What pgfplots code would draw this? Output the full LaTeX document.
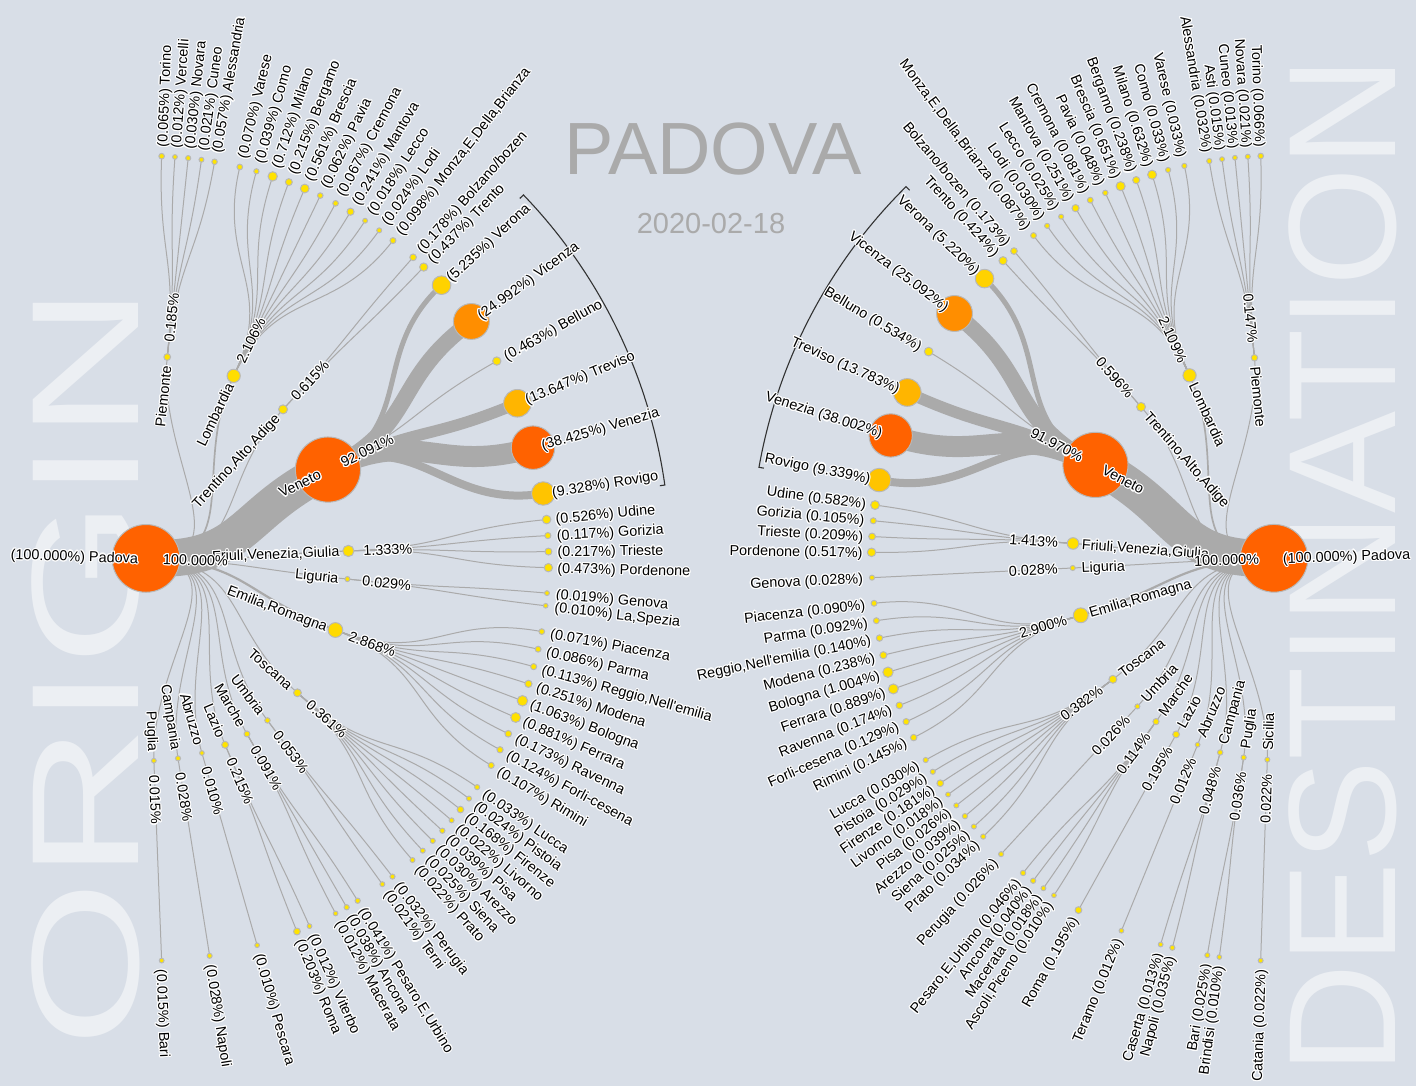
\documentclass[border=0pt]{standalone}
\usepackage{fontspec}
\setmainfont{Liberation Sans}
\usepackage{pgfplots}
\usepackage{pgfplotstable}
\pgfplotsset{compat=1.18}
\usepackage{contour}
\contourlength{0.55bp}
\contournumber{16}

\definecolor{bg}{RGB}{216,222,231}
\definecolor{linkc}{RGB}{170,170,170}
\definecolor{ttl}{RGB}{170,170,170}
\definecolor{big}{RGB}{236,239,243}
\definecolor{arcc}{RGB}{50,50,50}

\newcommand\pxfont{\fontsize{7.2bp}{8.2bp}\selectfont}
\newif\iflabels
\def\CX{0}\def\CY{0}

% bezier link in radial layout (d3.linkRadial)
\newcommand\Link[5]{%
 \pgfmathsetmacro\LAx{\CX+(#2)*cos(#1)}\pgfmathsetmacro\LAy{\CY-(#2)*sin(#1)}%
 \pgfmathsetmacro\LM{((#2)+(#4))/2}%
 \pgfmathsetmacro\LBx{\CX+\LM*cos(#1)}\pgfmathsetmacro\LBy{\CY-\LM*sin(#1)}%
 \pgfmathsetmacro\LCx{\CX+\LM*cos(#3)}\pgfmathsetmacro\LCy{\CY-\LM*sin(#3)}%
 \pgfmathsetmacro\LDx{\CX+(#4)*cos(#3)}\pgfmathsetmacro\LDy{\CY-(#4)*sin(#3)}%
 \pgfmathsetmacro\LW{0.5*(#5)}%
 \edef\tmp{\noexpand\draw[linkc,line width=\LW bp] (axis cs:\LAx,\LAy) .. controls (axis cs:\LBx,\LBy) and (axis cs:\LCx,\LCy) .. (axis cs:\LDx,\LDy);}\tmp}

\newcommand\Lab[5]{%
 \pgfmathsetmacro\TX{\CX+(#2)*cos(#1)}\pgfmathsetmacro\TY{\CY-(#2)*sin(#1)}%
 \pgfmathsetmacro\TR{#4}%
 \edef\tmp{\noexpand\node[inner sep=0pt,outer sep=0pt,anchor=#3,rotate=\TR,font=\noexpand\pxfont] at (axis cs:\TX,\TY)}\tmp{\contour{white}{#5}};}

\newcommand\Arc[3]{%
 \pgfmathsetmacro\AOx{\CX+(#3)*cos(#1)}\pgfmathsetmacro\AOy{\CY-(#3)*sin(#1)}%
 \pgfmathsetmacro\AIx{\CX+(#3-5)*cos(#1)}\pgfmathsetmacro\AIy{\CY-(#3-5)*sin(#1)}%
 \pgfmathsetmacro\BIx{\CX+(#3-5)*cos(#2)}\pgfmathsetmacro\BIy{\CY-(#3-5)*sin(#2)}%
 \pgfmathsetmacro\ARR{0.5*(#3)}%
 \edef\tmp{\noexpand\draw[arcc,line width=0.55bp] (axis cs:\AIx,\AIy) -- (axis cs:\AOx,\AOy) arc[start angle=#1,end angle=#2,radius=\ARR bp] -- (axis cs:\BIx,\BIy);}\tmp}

% left tree (origin)
\def\LRreg{202.5}\def\LRleaf{402.5}\def\LRoot{-1.9}
\newcommand\LReg[4]{\iflabels\Lab{#1}{\LRreg-9}{mid east}{#1}{#3}\Lab{#1}{\LRreg+15}{mid west}{#1}{#4}\else\Link{\LRoot}{0}{#1}{\LRreg}{#2}\fi}
\newcommand\LLeaf[4]{\iflabels\Lab{#2}{\LRleaf+9}{mid west}{#2}{#4}\else\Link{#1}{\LRreg}{#2}{\LRleaf}{#3}\fi}
% right tree (destination)
\def\RRreg{201.5}\def\RRleaf{402.5}\def\RRoot{181.84}
\newcommand\RReg[4]{\iflabels\Lab{#1}{\RRreg-9}{mid west}{#1-180}{#3}\Lab{#1}{\RRreg+15}{mid east}{#1-180}{#4}\else\Link{\RRoot}{0}{#1}{\RRreg}{#2}\fi}
\newcommand\RLeaf[4]{\iflabels\Lab{#2}{\RRleaf+9}{mid east}{#2-180}{#4}\else\Link{#1}{\RRreg}{#2}{\RRleaf}{#3}\fi}

\newcommand\LeftTree{%
\LReg{83.98}{1}{Piemonte}{0.185\%}
\LLeaf{83.98}{87.77}{1}{(0.065\%) Torino}
\LLeaf{83.98}{85.87}{1}{(0.012\%) Vercelli}
\LLeaf{83.98}{83.98}{1}{(0.030\%) Novara}
\LLeaf{83.98}{82.08}{1}{(0.021\%) Cuneo}
\LLeaf{83.98}{80.19}{1}{(0.057\%) Alessandria}
\LReg{64.34}{1.7}{Lombardia}{2.106\%}
\LLeaf{64.34}{76.52}{1}{(0.070\%) Varese}
\LLeaf{64.34}{74.08}{1}{(0.039\%) Como}
\LLeaf{64.34}{71.65}{1}{(0.712\%) Milano}
\LLeaf{64.34}{69.21}{1}{(0.215\%) Bergamo}
\LLeaf{64.34}{66.77}{1}{(0.561\%) Brescia}
\LLeaf{64.34}{64.34}{1}{(0.062\%) Pavia}
\LLeaf{64.34}{61.90}{1}{(0.067\%) Cremona}
\LLeaf{64.34}{59.46}{1}{(0.241\%) Mantova}
\LLeaf{64.34}{57.02}{1}{(0.018\%) Lecco}
\LLeaf{64.34}{54.59}{1}{(0.024\%) Lodi}
\LLeaf{64.34}{52.15}{1}{(0.098\%) Monza,E,Della,Brianza}
\LReg{47.40}{1}{Trentino,Alto,Adige}{0.615\%}
\LLeaf{47.40}{48.42}{1}{(0.178\%) Bolzano/bozen}
\LLeaf{47.40}{46.37}{1}{(0.437\%) Trento}
\LReg{26.02}{37}{Veneto}{92.091\%}
\LLeaf{26.02}{42.75}{5}{(5.235\%) Verona}
\LLeaf{26.02}{36.06}{16}{(24.992\%) Vicenza}
\LLeaf{26.02}{29.36}{1}{(0.463\%) Belluno}
\LLeaf{26.02}{22.67}{11.5}{(13.647\%) Treviso}
\LLeaf{26.02}{15.97}{21}{(38.425\%) Venezia}
\LLeaf{26.02}{9.28}{8}{(9.328\%) Rovigo}
\LReg{2.11}{1.2}{Friuli,Venezia,Giulia}{1.333\%}
\LLeaf{2.11}{5.54}{1}{(0.526\%) Udine}
\LLeaf{2.11}{3.25}{1}{(0.117\%) Gorizia}
\LLeaf{2.11}{0.97}{1}{(0.217\%) Trieste}
\LLeaf{2.11}{-1.32}{1}{(0.473\%) Pordenone}
\LReg{-5.86}{1}{Liguria}{0.029\%}
\LLeaf{-5.86}{-4.95}{1}{(0.019\%) Genova}
\LLeaf{-5.86}{-6.76}{1}{(0.010\%) La,Spezia}
\LReg{-20.71}{2.2}{Emilia,Romagna}{2.868\%}
\LLeaf{-20.71}{-10.48}{1}{(0.071\%) Piacenza}
\LLeaf{-20.71}{-13.04}{1}{(0.086\%) Parma}
\LLeaf{-20.71}{-15.60}{1}{(0.113\%) Reggio,Nell\textquotesingle emilia}
\LLeaf{-20.71}{-18.16}{1}{(0.251\%) Modena}
\LLeaf{-20.71}{-20.72}{1}{(1.063\%) Bologna}
\LLeaf{-20.71}{-23.28}{1}{(0.881\%) Ferrara}
\LLeaf{-20.71}{-25.83}{1}{(0.173\%) Ravenna}
\LLeaf{-20.71}{-28.39}{1}{(0.124\%) Forli-cesena}
\LLeaf{-20.71}{-30.95}{1}{(0.107\%) Rimini}
\LReg{-41.59}{1}{Toscana}{0.361\%}
\LLeaf{-41.59}{-34.64}{1}{(0.033\%) Lucca}
\LLeaf{-41.59}{-36.63}{1}{(0.024\%) Pistoia}
\LLeaf{-41.59}{-38.61}{1}{(0.168\%) Firenze}
\LLeaf{-41.59}{-40.60}{1}{(0.022\%) Livorno}
\LLeaf{-41.59}{-42.58}{1}{(0.039\%) Pisa}
\LLeaf{-41.59}{-44.57}{1}{(0.030\%) Arezzo}
\LLeaf{-41.59}{-46.56}{1}{(0.025\%) Siena}
\LLeaf{-41.59}{-48.54}{1}{(0.022\%) Prato}
\LReg{-53.14}{1}{Umbria}{0.053\%}
\LLeaf{-53.14}{-52.24}{1}{(0.032\%) Perugia}
\LLeaf{-53.14}{-54.04}{1}{(0.021\%) Terni}
\LReg{-60.09}{1}{Marche}{0.091\%}
\LLeaf{-60.09}{-58.27}{1}{(0.041\%) Pesaro,E,Urbino}
\LLeaf{-60.09}{-60.09}{1}{(0.038\%) Ancona}
\LLeaf{-60.09}{-61.90}{1}{(0.012\%) Macerata}
\LReg{-67.00}{1}{Lazio}{0.215\%}
\LLeaf{-67.00}{-66.03}{1}{(0.012\%) Viterbo}
\LLeaf{-67.00}{-67.97}{1}{(0.203\%) Roma}
\LReg{-73.97}{1}{Abruzzo}{0.010\%}
\LLeaf{-73.97}{-73.97}{1}{(0.010\%) Pescara}
\LReg{-80.90}{1}{Campania}{0.028\%}
\LLeaf{-80.90}{-80.90}{1}{(0.028\%) Napoli}
\LReg{-87.77}{1}{Puglia}{0.015\%}
\LLeaf{-87.77}{-87.77}{1}{(0.015\%) Bari}
}

\newcommand\RightTree{%
\RReg{95.57}{1}{Piemonte}{0.147\%}
\RLeaf{95.57}{91.89}{1}{Torino (0.066\%)}
\RLeaf{95.57}{93.73}{1}{Novara (0.021\%)}
\RLeaf{95.57}{95.57}{1}{Cuneo (0.013\%)}
\RLeaf{95.57}{97.42}{1}{Asti (0.015\%)}
\RLeaf{95.57}{99.26}{1}{Alessandria (0.032\%)}
\RReg{114.78}{1.7}{Lombardia}{2.109\%}
\RLeaf{114.78}{102.87}{1}{Varese (0.033\%)}
\RLeaf{114.78}{105.25}{1}{Como (0.033\%)}
\RLeaf{114.78}{107.63}{1}{Milano (0.632\%)}
\RLeaf{114.78}{110.02}{1}{Bergamo (0.238\%)}
\RLeaf{114.78}{112.40}{1}{Brescia (0.651\%)}
\RLeaf{114.78}{114.78}{1}{Pavia (0.048\%)}
\RLeaf{114.78}{117.16}{1}{Cremona (0.081\%)}
\RLeaf{114.78}{119.54}{1}{Mantova (0.251\%)}
\RLeaf{114.78}{121.93}{1}{Lecco (0.025\%)}
\RLeaf{114.78}{124.31}{1}{Lodi (0.030\%)}
\RLeaf{114.78}{126.69}{1}{Monza,E,Della,Brianza (0.087\%)}
\RReg{131.28}{1}{Trentino,Alto,Adige}{0.596\%}
\RLeaf{131.28}{130.24}{1}{Bolzano/bozen (0.173\%)}
\RLeaf{131.28}{132.32}{1}{Trento (0.424\%)}
\RReg{152.39}{37}{Veneto}{91.970\%}
\RLeaf{152.39}{135.98}{5}{Verona (5.220\%)}
\RLeaf{152.39}{142.54}{16}{Vicenza (25.092\%)}
\RLeaf{152.39}{149.10}{1}{Belluno (0.534\%)}
\RLeaf{152.39}{155.67}{11.5}{Treviso (13.783\%)}
\RLeaf{152.39}{162.23}{21}{Venezia (38.002\%)}
\RLeaf{152.39}{168.79}{8}{Rovigo (9.339\%)}
\RReg{175.78}{1.2}{Friuli,Venezia,Giulia}{1.413\%}
\RLeaf{175.78}{172.40}{1}{Udine (0.582\%)}
\RLeaf{175.78}{174.65}{1}{Gorizia (0.105\%)}
\RLeaf{175.78}{176.90}{1}{Trieste (0.209\%)}
\RLeaf{175.78}{179.15}{1}{Pordenone (0.517\%)}
\RReg{182.76}{1}{Liguria}{0.028\%}
\RLeaf{182.76}{182.76}{1}{Genova (0.028\%)}
\RReg{196.44}{2.2}{Emilia,Romagna}{2.900\%}
\RLeaf{196.44}{186.42}{1}{Piacenza (0.090\%)}
\RLeaf{196.44}{188.92}{1}{Parma (0.092\%)}
\RLeaf{196.44}{191.43}{1}{Reggio,Nell\textquotesingle emilia (0.140\%)}
\RLeaf{196.44}{193.93}{1}{Modena (0.238\%)}
\RLeaf{196.44}{196.44}{1}{Bologna (1.004\%)}
\RLeaf{196.44}{198.94}{1}{Ferrara (0.889\%)}
\RLeaf{196.44}{201.44}{1}{Ravenna (0.174\%)}
\RLeaf{196.44}{203.95}{1}{Forli-cesena (0.129\%)}
\RLeaf{196.44}{206.45}{1}{Rimini (0.145\%)}
\RReg{216.91}{1}{Toscana}{0.382\%}
\RLeaf{216.91}{210.08}{1}{Lucca (0.030\%)}
\RLeaf{216.91}{212.03}{1}{Pistoia (0.029\%)}
\RLeaf{216.91}{213.98}{1}{Firenze (0.181\%)}
\RLeaf{216.91}{215.93}{1}{Livorno (0.018\%)}
\RLeaf{216.91}{217.88}{1}{Pisa (0.026\%)}
\RLeaf{216.91}{219.84}{1}{Arezzo (0.039\%)}
\RLeaf{216.91}{221.79}{1}{Siena (0.025\%)}
\RLeaf{216.91}{223.74}{1}{Prato (0.034\%)}
\RReg{227.31}{1}{Umbria}{0.026\%}
\RLeaf{227.31}{227.31}{1}{Perugia (0.026\%)}
\RReg{234.15}{1}{Marche}{0.114\%}
\RLeaf{234.15}{231.43}{1}{Pesaro,E,Urbino (0.046\%)}
\RLeaf{234.15}{233.24}{1}{Ancona (0.040\%)}
\RLeaf{234.15}{235.05}{1}{Macerata (0.018\%)}
\RLeaf{234.15}{236.86}{1}{Ascoli,Piceno (0.010\%)}
\RReg{240.93}{1}{Lazio}{0.195\%}
\RLeaf{240.93}{240.93}{1}{Roma (0.195\%)}
\RReg{247.72}{1}{Abruzzo}{0.012\%}
\RLeaf{247.72}{247.72}{1}{Teramo (0.012\%)}
\RReg{254.51}{1}{Campania}{0.048\%}
\RLeaf{254.51}{253.64}{1}{Caserta (0.013\%)}
\RLeaf{254.51}{255.37}{1}{Napoli (0.035\%)}
\RReg{261.33}{1}{Puglia}{0.036\%}
\RLeaf{261.33}{260.46}{1}{Bari (0.025\%)}
\RLeaf{261.33}{262.19}{1}{Brindisi (0.010\%)}
\RReg{268.10}{1}{Sicilia}{0.022\%}
\RLeaf{268.10}{268.10}{1}{Catania (0.022\%)}
}

% node tables: angle (deg), radius (px), value (%)
\pgfplotstableread{
a r v
-1.9 0 100
83.98 202.5 0.185
64.34 202.5 2.106
47.40 202.5 0.615
26.02 202.5 92.091
2.11 202.5 1.333
-5.86 202.5 0.029
-20.71 202.5 2.868
-41.59 202.5 0.361
-53.14 202.5 0.053
-60.09 202.5 0.091
-67.00 202.5 0.215
-73.97 202.5 0.010
-80.90 202.5 0.028
-87.77 202.5 0.015
87.77 402.5 0.065
85.87 402.5 0.012
83.98 402.5 0.030
82.08 402.5 0.021
80.19 402.5 0.057
76.52 402.5 0.070
74.08 402.5 0.039
71.65 402.5 0.712
69.21 402.5 0.215
66.77 402.5 0.561
64.34 402.5 0.062
61.90 402.5 0.067
59.46 402.5 0.241
57.02 402.5 0.018
54.59 402.5 0.024
52.15 402.5 0.098
48.42 402.5 0.178
46.37 402.5 0.437
42.75 402.5 5.235
36.06 402.5 24.992
29.36 402.5 0.463
22.67 402.5 13.647
15.97 402.5 38.425
9.28 402.5 9.328
5.54 402.5 0.526
3.25 402.5 0.117
0.97 402.5 0.217
-1.32 402.5 0.473
-4.95 402.5 0.019
-6.76 402.5 0.010
-10.48 402.5 0.071
-13.04 402.5 0.086
-15.60 402.5 0.113
-18.16 402.5 0.251
-20.72 402.5 1.063
-23.28 402.5 0.881
-25.83 402.5 0.173
-28.39 402.5 0.124
-30.95 402.5 0.107
-34.64 402.5 0.033
-36.63 402.5 0.024
-38.61 402.5 0.168
-40.60 402.5 0.022
-42.58 402.5 0.039
-44.57 402.5 0.030
-46.56 402.5 0.025
-48.54 402.5 0.022
-52.24 402.5 0.032
-54.04 402.5 0.021
-58.27 402.5 0.041
-60.09 402.5 0.038
-61.90 402.5 0.012
-66.03 402.5 0.012
-67.97 402.5 0.203
-73.97 402.5 0.010
-80.90 402.5 0.028
-87.77 402.5 0.015
}\LeftNodes

\pgfplotstableread{
a r v
181.84 0 100
95.57 201.5 0.147
114.78 201.5 2.109
131.28 201.5 0.596
152.39 201.5 91.970
175.78 201.5 1.413
182.76 201.5 0.028
196.44 201.5 2.900
216.91 201.5 0.382
227.31 201.5 0.026
234.15 201.5 0.114
240.93 201.5 0.195
247.72 201.5 0.012
254.51 201.5 0.048
261.33 201.5 0.036
268.10 201.5 0.022
91.89 402.5 0.066
93.73 402.5 0.021
95.57 402.5 0.013
97.42 402.5 0.015
99.26 402.5 0.032
102.87 402.5 0.033
105.25 402.5 0.033
107.63 402.5 0.632
110.02 402.5 0.238
112.40 402.5 0.651
114.78 402.5 0.048
117.16 402.5 0.081
119.54 402.5 0.251
121.93 402.5 0.025
124.31 402.5 0.030
126.69 402.5 0.087
130.24 402.5 0.173
132.32 402.5 0.424
135.98 402.5 5.220
142.54 402.5 25.092
149.10 402.5 0.534
155.67 402.5 13.783
162.23 402.5 38.002
168.79 402.5 9.339
172.40 402.5 0.582
174.65 402.5 0.105
176.90 402.5 0.209
179.15 402.5 0.517
182.76 402.5 0.028
186.42 402.5 0.090
188.92 402.5 0.092
191.43 402.5 0.140
193.93 402.5 0.238
196.44 402.5 1.004
198.94 402.5 0.889
201.44 402.5 0.174
203.95 402.5 0.129
206.45 402.5 0.145
210.08 402.5 0.030
212.03 402.5 0.029
213.98 402.5 0.181
215.93 402.5 0.018
217.88 402.5 0.026
219.84 402.5 0.039
221.79 402.5 0.025
223.74 402.5 0.034
227.31 402.5 0.026
231.43 402.5 0.046
233.24 402.5 0.040
235.05 402.5 0.018
236.86 402.5 0.010
240.93 402.5 0.195
247.72 402.5 0.012
253.64 402.5 0.013
255.37 402.5 0.035
260.46 402.5 0.025
262.19 402.5 0.010
268.10 402.5 0.022
}\RightNodes

\pgfplotsset{nodemarks/.style={scatter, only marks, mark=*,
  point meta={min(\thisrow{v},38)},
  scatter/use mapped color={draw=black!28, fill=mapped color},
  visualization depends on={2+3.2*sqrt(\thisrow{v}) \as \rad},
  scatter/@pre marker code/.append style={/tikz/mark size=0.5*\rad},
  mark options={line width=0.5bp}}}

\begin{document}
\begin{tikzpicture}
\begin{axis}[name=ax, at={(0,0)}, anchor=south west,
  width=708bp, height=543bp, scale only axis,
  xmin=0, xmax=1416, ymin=0, ymax=1086, y dir=reverse,
  hide axis, clip=false, set layers=standard,
  colormap={orgmap}{rgb255=(255,228,0) rgb255=(255,98,0)},
  point meta min=0, point meta max=38]
\begin{pgfonlayer}{axis background}
\fill[bg] (axis cs:0,0) rectangle (axis cs:1416,1086);
% background words
\node[inner sep=0pt, anchor=base west, rotate=90, text=big, font=\fontsize{76.5bp}{80bp}\selectfont] at (axis cs:138,1048) {\scalebox{1.40}[1]{ORIGIN}};
\node[inner sep=0pt, anchor=base west, rotate=90, text=big, font=\fontsize{76.5bp}{80bp}\selectfont] at (axis cs:1395,1075) {DESTINATION};
% title
\node[inner sep=0pt, anchor=base, text=ttl, font=\fontsize{37bp}{40bp}\selectfont] at (axis cs:713,175) {PADOVA};
\node[inner sep=0pt, anchor=base, text=ttl, font=\fontsize{14.5bp}{16bp}\selectfont] at (axis cs:711,234) {2020-02-18};
\end{pgfonlayer}
% links
\begin{pgfonlayer}{pre main}
\labelsfalse
\def\CX{146}\def\CY{558.4}\LeftTree
\Arc{43.92}{8.05}{524}
\def\CX{1274}\def\CY{558.3}\RightTree
\Arc{134.72}{169.98}{523}
\end{pgfonlayer}
% nodes
\addplot[nodemarks] table[x expr={146+\thisrow{r}*cos(\thisrow{a})}, y expr={558.4-\thisrow{r}*sin(\thisrow{a})}] {\LeftNodes};
\addplot[nodemarks] table[x expr={1274+\thisrow{r}*cos(\thisrow{a})}, y expr={558.3-\thisrow{r}*sin(\thisrow{a})}] {\RightNodes};
% labels
\begin{pgfonlayer}{axis foreground}
\labelstrue
\def\CX{146}\def\CY{558.4}\LeftTree
\Lab{-1.9}{-8}{mid east}{-1.9}{(100.000\%) Padova}
\Lab{-1.9}{17}{mid west}{-1.9}{100.000\%}
\def\CX{1274}\def\CY{558.3}\RightTree
\Lab{181.84}{-9}{mid west}{1.84}{(100.000\%) Padova}
\Lab{181.84}{15}{mid east}{1.84}{100.000\%}
\end{pgfonlayer}
\end{axis}
\pgfresetboundingbox
\path[use as bounding box] (ax.south west) rectangle (ax.north east);
\end{tikzpicture}
\end{document}
